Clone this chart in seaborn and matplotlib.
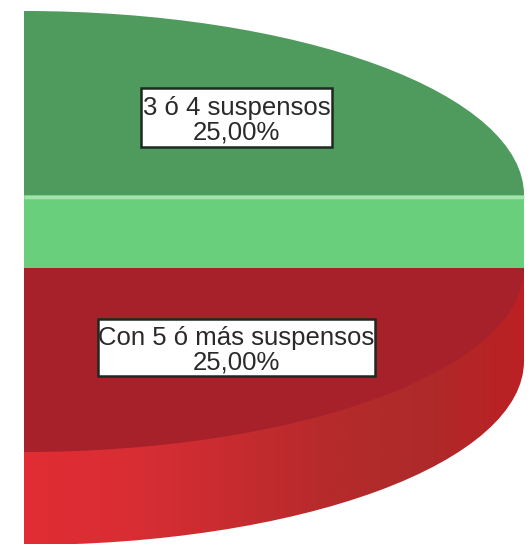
"""Cropped 3D style pie chart of students by number of failed subjects."""

import numpy as np
import matplotlib.pyplot as plt
from matplotlib.colors import LinearSegmentedColormap
from matplotlib.patches import Rectangle
import seaborn as sns

# Data
categories = ["3 ó 4 suspensos", "Con 5 ó más suspensos"]
percentages = [25.0, 25.0]

# Colours: top face of the green slice, its cut face, top face of the red slice
GREEN_TOP, GREEN_SIDE, RED_TOP = sns.color_palette(["#4f9a5d", "#69cf7c", "#a62129"])
RED_WALL = LinearSegmentedColormap.from_list(
    "red_wall", ["#e22c33", "#d92e34", "#c92c30", "#b72a2c", "#ae2a2a", "#bc2024"]
)

# Pixel geometry of the picture
WIDTH, HEIGHT = 529, 544
CENTER_X, GREEN_Y, RED_Y = 24, 195, 268
RADIUS_X, RADIUS_Y, DEPTH = 500, 184, 93

sns.set_theme(style="white")
plt.rcParams["font.family"] = ["Liberation Sans", "DejaVu Sans"]


def to_x(px):
    return (px - CENTER_X) / RADIUS_X


def to_y(py):
    return (GREEN_Y - py) / RADIUS_Y


fig = plt.figure(figsize=(WIDTH / 100, HEIGHT / 100), dpi=100)
ax = fig.add_axes([0, 0, 1, 1])
no_edge = dict(edgecolor="none", linewidth=0)

# Red slice: outer wall first, then the top face
wall, _ = ax.pie(
    [percentages[1] / 100], startangle=270, normalize=False,
    center=(0, to_y(RED_Y + DEPTH)), colors=["none"], frame=True, wedgeprops=no_edge,
)
gradient = np.linspace(0, 1, 256).reshape(1, -1)
extent = (0, 1, to_y(HEIGHT), to_y(RED_Y))
body = Rectangle((0, to_y(RED_Y + DEPTH)), 1, to_y(RED_Y) - to_y(RED_Y + DEPTH),
                 transform=ax.transData)
for clip in (wall[0], body):
    image = ax.imshow(gradient, extent=extent, cmap=RED_WALL, aspect="auto", zorder=1)
    image.set_clip_path(clip)

top_red, _ = ax.pie(
    [percentages[1] / 100], startangle=270, normalize=False,
    center=(0, to_y(RED_Y)), colors=[RED_TOP], frame=True, wedgeprops=no_edge,
)
top_red[0].set_zorder(2)

# Green slice: cut face, pale highlight line, then the top face
ax.add_patch(Rectangle((0, to_y(RED_Y)), 1, to_y(GREEN_Y) - to_y(RED_Y),
                       facecolor=GREEN_SIDE, edgecolor="none", zorder=2))
ax.plot([0, 1], [to_y(GREEN_Y + 2)] * 2, color="#a6e2ae", linewidth=2.5, zorder=3,
        solid_capstyle="butt")
top_green, _ = ax.pie(
    [percentages[0] / 100], startangle=0, normalize=False,
    center=(0, 0), colors=[GREEN_TOP], frame=True, wedgeprops=no_edge,
)
top_green[0].set_zorder(2)

ax.set_aspect("auto")
ax.set_xlim(to_x(0), to_x(WIDTH))
ax.set_ylim(to_y(HEIGHT), to_y(0))
ax.axis("off")

# Labels with white boxes (left, top, right, bottom in pixels)
label_boxes = [(141, 88, 332, 147), (98, 319, 375, 376)]
for name, value, (left, top, right, bottom) in zip(categories, percentages, label_boxes):
    ax.add_patch(Rectangle(
        (to_x(left), to_y(bottom)), to_x(right) - to_x(left), to_y(top) - to_y(bottom),
        facecolor="white", edgecolor="#1c2a20", linewidth=1.8, zorder=4,
    ))
    text = f"{name}\n{value:.2f}%".replace(".", ",")
    ax.text(
        to_x((left + right) / 2), to_y((top + bottom) / 2 + 3), text,
        ha="center", va="center", fontsize=18.5, linespacing=1.03,
        color="#2a2a2a", zorder=5,
    )

fig.savefig("out.png", dpi=100)
plt.close(fig)
